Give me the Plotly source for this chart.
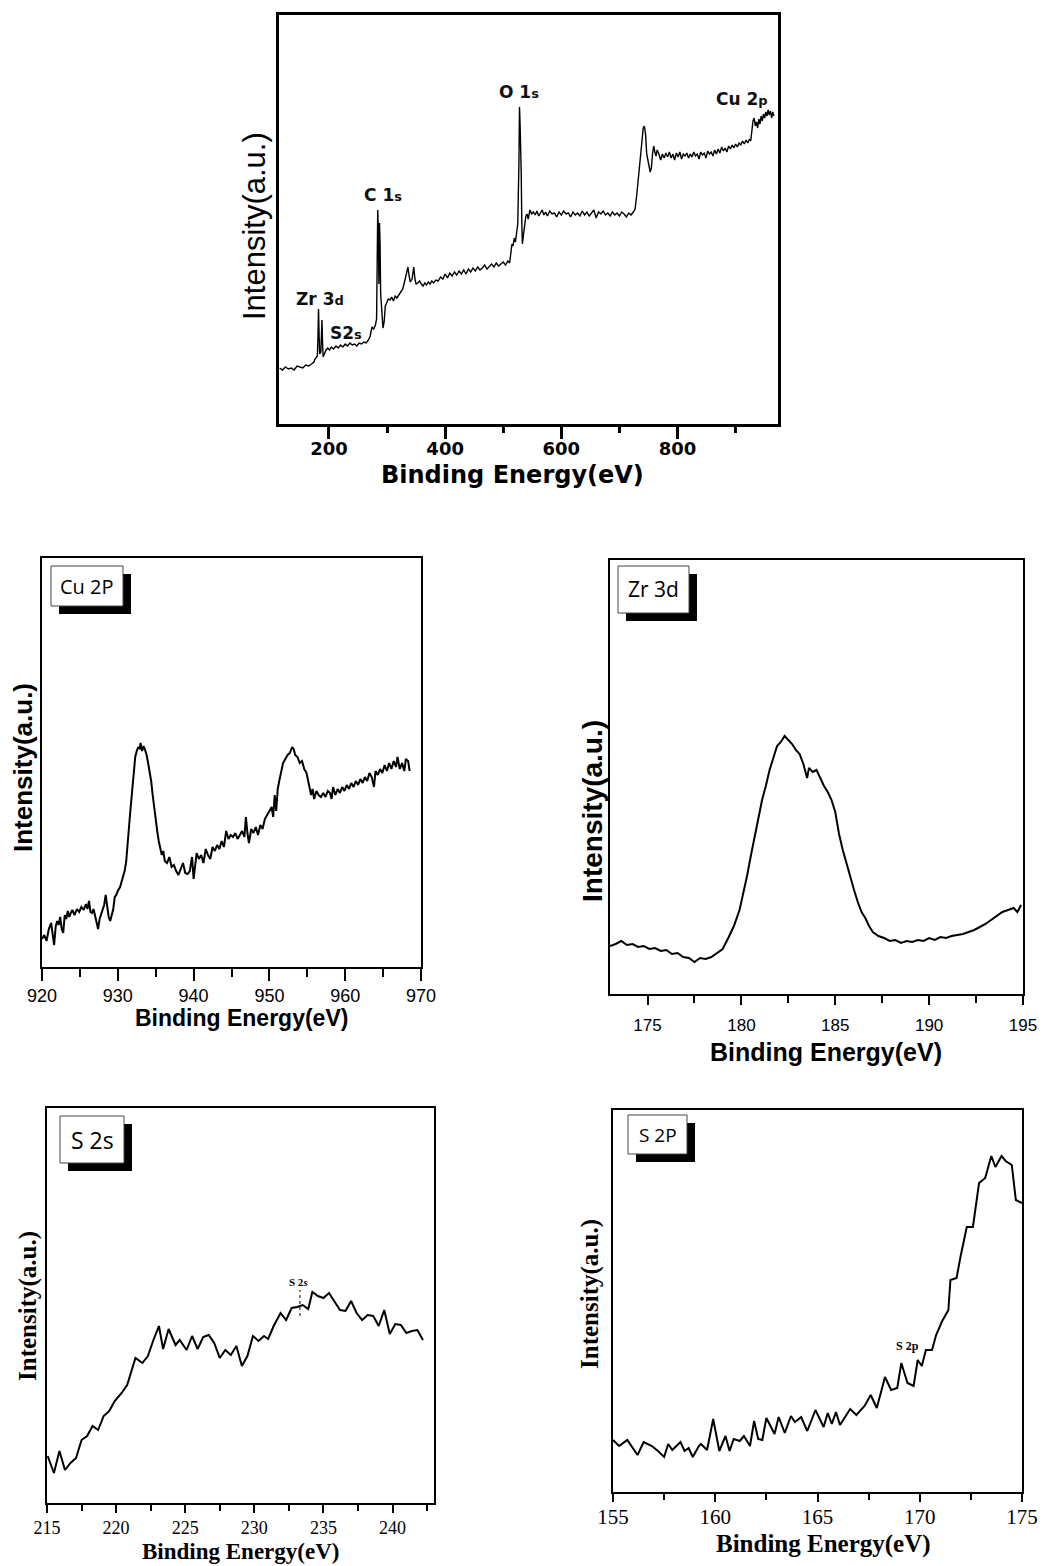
import plotly.graph_objects as go

W, H = 1043, 1566


def px(x):
    return x / W


def py(y):
    return 1 - y / H


# ---------------- data ----------------
survey_e = [115, 120, 125, 130, 135, 140, 145, 150, 155, 160, 165, 170, 174, 176, 178, 180, 181, 182, 183, 184,
            186, 187, 188, 189, 190, 192, 195, 198, 201, 204, 208, 212, 216, 220, 224, 228, 232, 236, 240, 244,
            248, 252, 256, 260, 264, 268, 271, 274, 277, 280, 282, 283, 284, 285, 286, 287, 288, 289, 291, 293,
            295, 297, 300, 302, 305, 308, 311, 314, 317, 320, 324, 327, 330, 333, 336, 338, 340, 343, 346, 348,
            350, 353, 356, 359, 362, 365, 368, 371, 374, 377, 380, 384, 388, 392, 396, 400, 404, 408, 412, 416,
            420, 424, 428, 432, 436, 440, 444, 448, 452, 456, 460, 464, 468, 472, 476, 480, 484, 488, 492, 496,
            500, 504, 508, 511, 513, 515, 517, 519, 521, 523, 525, 527, 528, 529, 530, 531, 532, 533, 535, 537,
            539, 541, 543, 546, 549, 552, 555, 558, 561, 564, 567, 570, 573, 576, 580, 584, 588, 592, 596, 600,
            604, 608, 612, 616, 620, 624, 628, 632, 636, 640, 644, 648, 652, 656, 660, 664, 668, 672, 676, 680,
            684, 688, 692, 696, 700, 704, 708, 712, 716, 720, 724, 727, 730, 733, 736, 739, 741, 743, 745, 747,
            749, 751, 753, 755, 757, 759, 761, 763, 765, 768, 771, 774, 777, 780, 783, 786, 789, 792, 795, 798,
            801, 804, 807, 810, 813, 816, 819, 822, 825, 828, 831, 834, 837, 840, 843, 846, 849, 852, 855, 858,
            861, 864, 867, 870, 873, 876, 879, 882, 885, 888, 891, 894, 897, 900, 903, 906, 909, 912, 915, 918,
            921, 924, 926, 928, 930, 932, 934, 936, 938, 940, 942, 944, 946, 948, 950, 952, 954, 956, 958, 960,
            962, 964, 966]
survey_i = [56, 54, 57, 55, 56, 54, 58, 57, 56, 59, 58, 60, 62, 65, 67, 68, 85, 115, 90, 70,
            72, 95, 104, 80, 67, 70, 74, 76, 74, 77, 75, 78, 76, 79, 77, 80, 78, 81, 79, 80,
            78, 81, 80, 82, 81, 84, 88, 97, 95, 99, 105, 160, 214, 190, 140, 201, 180, 130, 110, 96,
            102, 118, 122, 125, 124, 127, 123, 128, 126, 129, 133, 135, 142, 150, 157, 148, 142, 145, 157, 145,
            140, 141, 143, 140, 138, 141, 139, 142, 140, 143, 141, 144, 143, 147, 145, 150, 146, 151, 148, 152,
            149, 153, 150, 154, 150, 155, 152, 156, 153, 157, 154, 156, 159, 155, 158, 160, 157, 161, 158, 160,
            162, 159, 163, 161, 170, 180, 178, 186, 182, 190, 200, 260, 317, 300, 277, 250, 200, 180, 190, 198,
            208, 210, 205, 214, 210, 212, 209, 213, 208, 211, 214, 209, 212, 208, 213, 210, 211, 207, 212, 209,
            213, 210, 211, 207, 212, 209, 211, 208, 213, 209, 212, 208, 211, 214, 206, 212, 210, 213, 209, 211,
            208, 212, 209, 211, 208, 212, 210, 207, 211, 209, 212, 215, 230, 250, 270, 285, 296, 298, 290, 270,
            262, 258, 252, 256, 270, 278, 272, 268, 274, 270, 264, 270, 266, 271, 267, 272, 266, 270, 264, 271,
            267, 272, 265, 270, 268, 271, 266, 270, 267, 272, 268, 270, 265, 272, 269, 271, 266, 273, 270, 272,
            268, 274, 270, 275, 271, 277, 273, 276, 272, 278, 275, 279, 276, 280, 277, 281, 279, 283, 280, 284,
            281, 285, 283, 295, 303, 306, 298, 302, 296, 305, 300, 308, 303, 310, 306, 312, 308, 314, 309, 313,
            306, 312, 308]

cu_e = [920.0, 920.3, 920.6, 920.9, 921.2, 921.4, 921.6, 921.8, 922.0, 922.2, 922.4, 922.6, 922.8, 923.0, 923.2,
        923.4, 923.6, 923.8, 924.0, 924.3, 924.6, 924.9, 925.2, 925.5, 925.8, 926.0, 926.2, 926.4, 926.6, 926.8,
        927.0, 927.2, 927.4, 927.6, 927.8, 928.0, 928.2, 928.4, 928.6, 928.8, 929.0, 929.2, 929.4, 929.6, 929.8,
        930.0, 930.3, 930.6, 930.9, 931.1, 931.3, 931.5, 931.7, 931.9, 932.1, 932.3, 932.5, 932.7, 932.9, 933.0,
        933.2, 933.4, 933.6, 933.8, 934.0, 934.2, 934.4, 934.6, 934.8, 935.0, 935.2, 935.4, 935.6, 935.8, 936.0,
        936.2, 936.5, 936.8, 937.1, 937.4, 937.7, 938.0, 938.3, 938.6, 938.9, 939.2, 939.5, 939.8, 940.0, 940.2,
        940.4, 940.7, 941.0, 941.3, 941.6, 941.9, 942.2, 942.5, 942.8, 943.1, 943.4, 943.7, 944.0, 944.3, 944.6,
        944.9, 945.2, 945.5, 945.8, 946.1, 946.4, 946.7, 946.9, 947.1, 947.3, 947.6, 947.9, 948.2, 948.5, 948.8,
        949.1, 949.4, 949.7, 950.0, 950.3, 950.5, 950.7, 950.9, 951.1, 951.3, 951.5, 951.8, 952.1, 952.4, 952.7,
        953.0, 953.2, 953.4, 953.7, 954.0, 954.3, 954.6, 954.9, 955.1, 955.3, 955.5, 955.7, 955.9, 956.2, 956.5,
        956.8, 957.1, 957.4, 957.7, 958.0, 958.2, 958.4, 958.7, 959.0, 959.3, 959.6, 959.9, 960.2, 960.5, 960.8,
        961.1, 961.4, 961.7, 962.0, 962.3, 962.6, 962.9, 963.2, 963.5, 963.8, 964.0, 964.3, 964.6, 964.9, 965.2,
        965.5, 965.8, 966.1, 966.4, 966.7, 966.9, 967.2, 967.5, 967.8, 968.0, 968.3, 968.5]
cu_i = [28, 32, 26, 38, 44, 30, 22, 40, 46, 42, 50, 38, 34, 52, 48,
        56, 50, 54, 57, 52, 58, 55, 60, 57, 63, 58, 66, 55, 54, 58,
        52, 46, 38, 48, 52, 56, 62, 72, 58, 50, 46, 52, 58, 70, 72,
        76, 80, 88, 96, 105, 120, 142, 160, 176, 196, 210, 216, 220, 218, 224,
        216, 221, 217, 212, 204, 196, 186, 172, 158, 144, 136, 126, 120, 112, 116,
        106, 104, 110, 100, 102, 96, 92, 98, 104, 94, 93, 96, 110, 88, 102,
        114, 108, 112, 104, 118, 112, 108, 120, 116, 122, 118, 126, 120, 136, 128,
        132, 130, 134, 128, 132, 136, 130, 150, 134, 124, 138, 134, 140, 132, 142,
        138, 148, 152, 156, 160, 150, 172, 156, 178, 186, 194, 204, 208, 212, 214,
        220, 218, 212, 210, 204, 206, 198, 194, 186, 182, 172, 178, 168, 176, 172,
        170, 174, 170, 176, 174, 168, 180, 172, 178, 174, 180, 176, 182, 178, 184,
        180, 186, 182, 188, 184, 190, 186, 194, 190, 180, 196, 192, 198, 194, 202,
        196, 204, 198, 206, 200, 210, 198, 204, 196, 208, 206, 196]

zr_e = [173.0, 173.3, 173.6, 173.9, 174.2, 174.5, 174.8, 175.1, 175.4, 175.7, 176.0, 176.3, 176.6, 176.9, 177.2,
        177.5, 177.8, 178.1, 178.4, 178.7, 179.0, 179.3, 179.6, 179.9, 180.1, 180.3, 180.5, 180.7, 180.9, 181.1,
        181.3, 181.5, 181.7, 181.9, 182.1, 182.3, 182.5, 182.7, 182.9, 183.1, 183.3, 183.5, 183.6, 183.8, 184.0,
        184.2, 184.4, 184.6, 184.8, 185.0, 185.2, 185.4, 185.6, 185.8, 186.0, 186.2, 186.4, 186.6, 186.8, 187.0,
        187.3, 187.6, 187.9, 188.2, 188.5, 188.8, 189.1, 189.4, 189.7, 190.0, 190.3, 190.6, 190.9, 191.2, 191.5,
        191.8, 192.1, 192.4, 192.7, 193.0, 193.3, 193.6, 193.9, 194.2, 194.5, 194.7, 194.9]
zr_i = [48, 50, 53, 49, 50, 47, 48, 45, 46, 43, 44, 40, 41, 37, 36,
        32, 36, 35, 37, 41, 45, 56, 68, 84, 100, 118, 138, 158, 176, 194,
        208, 224, 236, 248, 252, 258, 254, 250, 244, 240, 230, 216, 226, 222, 224,
        216, 208, 202, 194, 182, 160, 144, 130, 116, 104, 92, 82, 76, 68, 62,
        58, 56, 53, 54, 51, 53, 52, 54, 53, 56, 54, 57, 56, 58, 59,
        60, 62, 64, 67, 70, 74, 78, 82, 84, 86, 82, 89]

s2s_e = [215.05, 215.5, 215.9, 216.3, 216.7, 217.1, 217.5, 217.9, 218.3, 218.7, 219.1, 219.5, 219.9, 220.4, 220.8,
         221.1, 221.4, 221.9, 222.3, 222.7, 223.1, 223.4, 223.8, 224.3, 224.6, 225.1, 225.5, 225.9, 226.3, 226.7,
         227.1, 227.5, 227.9, 228.3, 228.7, 229.1, 229.5, 229.9, 230.3, 230.7, 231.0, 231.4, 231.9, 232.3, 232.7,
         233.1, 233.5, 233.9, 234.2, 234.6, 235.0, 235.4, 235.8, 236.2, 236.6, 237.0, 237.4, 237.8, 238.2, 238.6,
         239.0, 239.4, 239.8, 240.2, 240.6, 241.0, 241.4, 241.8, 242.2]
s2s_i = [47, 30, 52, 33, 40, 45, 63, 67, 77, 73, 87, 92, 102, 110, 118,
         132, 145, 140, 147, 163, 177, 154, 174, 158, 163, 153, 167, 154, 166, 168,
         160, 145, 153, 148, 157, 137, 147, 167, 162, 167, 164, 177, 190, 183, 195,
         196, 198, 194, 211, 207, 205, 210, 202, 193, 192, 202, 190, 183, 188, 187,
         177, 193, 169, 179, 178, 170, 172, 173, 163]

s2p_e = [155.0, 155.3, 155.7, 156.2, 156.5, 156.9, 157.2, 157.5, 157.7, 157.9, 158.3, 158.5, 158.7, 158.9, 159.2,
         159.3, 159.6, 159.9, 160.2, 160.5, 160.7, 160.9, 161.2, 161.4, 161.7, 161.9, 162.1, 162.3, 162.5, 162.9,
         163.1, 163.4, 163.7, 163.9, 164.2, 164.5, 164.9, 165.3, 165.5, 165.7, 165.9, 166.1, 166.6, 166.9, 167.3,
         167.6, 167.9, 168.3, 168.6, 168.9, 169.1, 169.4, 169.7, 169.9, 170.1, 170.3, 170.6, 170.8, 171.1, 171.4,
         171.5, 171.8, 172.0, 172.3, 172.6, 172.7, 172.9, 173.2, 173.5, 173.7, 174.0, 174.2, 174.5, 174.7, 175.0]
s2p_i = [52, 46, 52, 37, 50, 46, 41, 35, 48, 42, 50, 41, 44, 35, 46,
         48, 42, 73, 41, 56, 41, 53, 51, 56, 46, 71, 53, 52, 74, 58,
         75, 59, 76, 70, 75, 61, 82, 65, 79, 68, 80, 67, 83, 77, 86,
         97, 84, 115, 102, 104, 129, 109, 106, 132, 126, 142, 142, 157, 171, 182,
         212, 214, 236, 265, 265, 281, 309, 314, 336, 325, 336, 331, 327, 292, 289]

tick_survey = [200, 400, 600, 800]
tick_cu = [920, 930, 940, 950, 960, 970]
tick_zr = [175, 180, 185, 190, 195]
tick_s2s = [215, 220, 225, 230, 235, 240]
tick_s2p = [155, 160, 165, 170, 175]

# ---------------- figure ----------------
fig = go.Figure()

panels = [
    dict(e=survey_e, i=survey_i, xd=(279, 778), yd=(15, 424), xr=[114, 973], yr=[0, 409],
         ticks=tick_survey, minor=100, lw=3, dlw=1.4, tl=12, ml=6,
         tf=dict(family="DejaVu Sans", size=18, color="black", weight="bold"), standoff=-6),
    dict(e=cu_e, i=cu_i, xd=(42, 421), yd=(558, 967), xr=[920, 970], yr=[0, 409],
         ticks=tick_cu, minor=5, lw=2, dlw=2, tl=12, ml=8,
         tf=dict(family="Liberation Sans", size=18, color="black"), standoff=-1),
    dict(e=zr_e, i=zr_i, xd=(610, 1023), yd=(560, 994), xr=[173, 195], yr=[0, 434],
         ticks=tick_zr, minor=2.5, lw=2, dlw=2, tl=9, ml=7,
         tf=dict(family="Liberation Sans", size=17, color="black"), standoff=6),
    dict(e=s2s_e, i=s2s_i, xd=(47, 434), yd=(1108, 1503), xr=[215, 243], yr=[0, 395],
         ticks=tick_s2s, minor=2.5, lw=2, dlw=2, tl=8, ml=6,
         tf=dict(family="Liberation Serif", size=18, color="black"), standoff=-1),
    dict(e=s2p_e, i=s2p_i, xd=(613, 1022), yd=(1110, 1492), xr=[155, 175], yr=[0, 382],
         ticks=tick_s2p, minor=2.5, lw=2, dlw=2, tl=8, ml=6,
         tf=dict(family="Liberation Serif", size=21, color="black"), standoff=-3),
]

layout = dict(width=W, height=H, margin=dict(l=0, r=0, t=0, b=0, pad=0, autoexpand=False),
              paper_bgcolor="white", plot_bgcolor="white", showlegend=False)

for k, p in enumerate(panels):
    sfx = "" if k == 0 else str(k + 1)
    fig.add_trace(go.Scatter(x=p["e"], y=p["i"], mode="lines",
                             line=dict(color="black", width=p["dlw"]),
                             xaxis="x" + sfx, yaxis="y" + sfx, hoverinfo="skip"))
    layout["xaxis" + sfx] = dict(
        domain=[px(p["xd"][0]), px(p["xd"][1])], anchor="y" + sfx, range=p["xr"],
        tickmode="array", tickvals=p["ticks"], ticks="outside", ticklen=p["tl"],
        tickwidth=p["lw"], tickcolor="black", tickfont=p["tf"],
        ticklabelstandoff=p["standoff"], automargin=False,
        minor=dict(ticks="outside", ticklen=p["ml"], tickwidth=p["lw"], tickcolor="black",
                   dtick=p["minor"], tick0=p["ticks"][0]),
        showline=True, linecolor="black", linewidth=p["lw"], mirror=True,
        showgrid=False, zeroline=False)
    layout["yaxis" + sfx] = dict(
        domain=[py(p["yd"][1]), py(p["yd"][0])], anchor="x" + sfx, range=p["yr"],
        showticklabels=False, ticks="", showline=True, linecolor="black", automargin=False,
        linewidth=p["lw"], mirror=True, showgrid=False, zeroline=False)

fig.update_layout(**layout)

ann = []
shapes = []


def text(x, y, s, family, size, weight="normal", angle=0, color="black"):
    ann.append(dict(x=px(x), y=py(y), xref="paper", yref="paper", text=s, showarrow=False,
                    xanchor="center", yanchor="middle", textangle=angle,
                    font=dict(family=family, size=size, color=color, weight=weight)))


# axis titles
text(512, 475, "Binding Energy(eV)", "DejaVu Sans", 24, "bold")
text(255, 226, "Intensity(a.u.)", "Liberation Sans", 31, angle=-90)
text(241, 1018, "Binding Energy(eV)", "Liberation Sans", 23, "bold")
text(23, 768, "Intensity(a.u.)", "Liberation Sans", 26, "bold", angle=-90)
text(826, 1052, "Binding Energy(eV)", "Liberation Sans", 25, "bold")
text(592, 811, "Intensity(a.u.)", "Liberation Sans", 28, "bold", angle=-90)
text(240, 1551, "Binding Energy(eV)", "Liberation Serif", 23, "bold")
text(28, 1306, "Intensity(a.u.)", "Liberation Serif", 25, "bold", angle=-90)
text(823, 1544, "Binding Energy(eV)", "Liberation Serif", 25, "bold")
text(590, 1294, "Intensity(a.u.)", "Liberation Serif", 25, "bold", angle=-90)

# survey peak labels
sm = "<span style='font-size:13px'>%s</span>"
text(320, 299, "Zr 3" + sm % "d", "DejaVu Sans", 17, "bold", color="#111")
text(346, 333, "S2" + sm % "s", "DejaVu Sans", 17, "bold", color="#111")
text(383, 195, "C 1" + sm % "s", "DejaVu Sans", 17, "bold", color="#111")
text(519, 92, "O 1" + sm % "s", "DejaVu Sans", 17, "bold", color="#111")
text(742, 99, "Cu 2" + sm % "p", "DejaVu Sans", 17, "bold", color="#111")

# boxed panel labels with shadow
boxes = [
    ("Cu 2P", (51, 566, 123, 606), 20),
    ("Zr 3d", (618, 566, 689, 613), 21),
    ("S 2s", (60, 1116, 124, 1163), 23),
    ("S 2P", (628, 1115, 687, 1154), 19),
]
for label, (x0, y0, x1, y1), fs in boxes:
    shapes.append(dict(type="rect", xref="paper", yref="paper",
                       x0=px(x0 + 8), x1=px(x1 + 8), y0=py(y1 + 8), y1=py(y0 + 8),
                       fillcolor="black", line=dict(width=0)))
    shapes.append(dict(type="rect", xref="paper", yref="paper",
                       x0=px(x0), x1=px(x1), y0=py(y1), y1=py(y0),
                       fillcolor="white", line=dict(color="#444", width=1)))
    text((x0 + x1) / 2, (y0 + y1) / 2, label, "Open Sans", fs)

# S 2s marker (dotted line) and S 2p label, in data coordinates
shapes.append(dict(type="line", xref="x4", yref="y4", x0=233.3, x1=233.3, y0=187, y1=213,
                   line=dict(color="black", width=1, dash="dot")))
ann.append(dict(x=233.2, y=221, xref="x4", yref="y4", text="<b>S 2<i>s</i></b>", showarrow=False,
                font=dict(family="Liberation Serif", size=11, color="black")))
ann.append(dict(x=169.4, y=146, xref="x5", yref="y5", text="<b>S 2p</b>", showarrow=False,
                font=dict(family="Liberation Serif", size=12, color="black")))

fig.update_layout(annotations=ann, shapes=shapes)
fig.write_html("out.html")
